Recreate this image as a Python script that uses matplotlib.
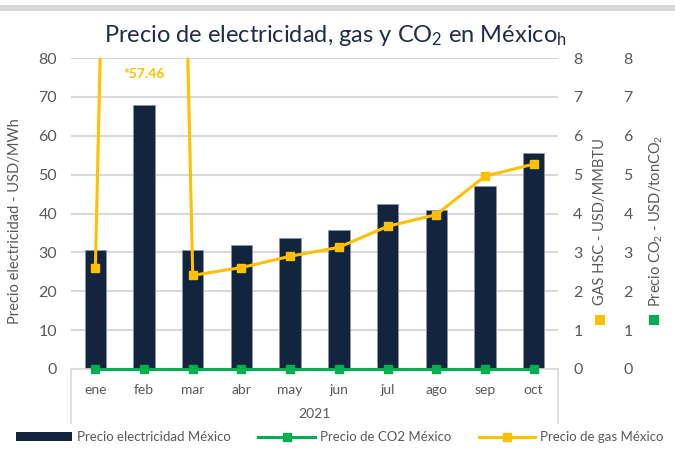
import matplotlib
matplotlib.use("Agg")
import matplotlib.pyplot as plt
from matplotlib.patches import Rectangle
from matplotlib.lines import Line2D
import matplotlib.transforms as mtransforms
import numpy as np

plt.rcParams['font.family'] = ['Lato', 'DejaVu Sans']
plt.rcParams['mathtext.default'] = 'regular'

months = ['ene', 'feb', 'mar', 'abr', 'may', 'jun', 'jul', 'ago', 'sep', 'oct']
year = '2021'
elec = [30.6, 67.9, 30.6, 31.9, 33.8, 35.7, 42.5, 41.0, 47.2, 55.5]
gas = [2.59, 57.46, 2.41, 2.61, 2.90, 3.13, 3.67, 3.97, 4.96, 5.27]
co2 = [0, 0, 0, 0, 0, 0, 0, 0, 0, 0]
gas_note = '*57.46'

title = r'Precio de electricidad, gas y CO$_2$ en México$_h$'
ylabel_left = 'Precio electricidad - USD/MWh'
ylabel_gas = 'GAS HSC - USD/MMBTU'
ylabel_co2 = r'Precio CO$_2$ - USD/tonCO$_2$'
legend_labels = ['Precio electricidad México', 'Precio de CO2 México', 'Precio de gas México']

NAVY = '#13243f'
YEL = '#FFC000'
GRN = '#00B050'
GRID = '#d9d9d9'
TXT = '#595959'

fig = plt.figure(figsize=(6.75, 4.51), dpi=100)
# top gray strip
fig.patches.append(Rectangle((0, 1 - 11/451), 1, 6.5/451, transform=fig.transFigure,
                             facecolor='#d9d9d9', edgecolor='none'))

ax = fig.add_axes([71/675, 1 - 369/451, 487/675, 311/451])
x = np.arange(len(months))

ax.bar(x, elec, width=0.44, color=NAVY, edgecolor='#8a96a8', linewidth=0.6, zorder=2)
ax.set_xlim(-0.5, 9.5)
ax.set_ylim(0, 80)
ax.set_yticks(np.arange(0, 81, 10))
ax.yaxis.grid(True, color=GRID, linewidth=1.5)
ax.set_axisbelow(True)
for s in ['top', 'right', 'left']:
    ax.spines[s].set_visible(False)
ax.spines['bottom'].set_color(GRID)
ax.spines['bottom'].set_linewidth(1.2)
ax.tick_params(axis='y', length=0, pad=10, labelsize=11.5, labelcolor=TXT)
ax.set_xticks(x)
ax.set_xticklabels(months)
ax.tick_params(axis='x', length=0, pad=11, labelsize=10, labelcolor=TXT)
ax.set_ylabel(ylabel_left, fontsize=10.5, color=TXT)
ax.yaxis.set_label_coords(-0.101, 0.477)

# category box lines
trans = mtransforms.blended_transform_factory(ax.transAxes, ax.transAxes)
for xx in (0, 1):
    ax.add_line(Line2D([xx, xx], [0, -0.175], transform=trans, color=GRID,
                       linewidth=1.2, clip_on=False))
ax.text(0.5, -0.145, year, transform=ax.transAxes, ha='center', va='center',
        fontsize=10, color=TXT)

# gas axis
ax2 = ax.twinx()
ax2.plot(x, gas, color=YEL, linewidth=2.2, marker='s', markersize=6, zorder=3)
ax2.set_ylim(0, 8)
ax2.set_yticks(np.arange(0, 9, 1))
for s in ax2.spines.values():
    s.set_visible(False)
ax2.tick_params(axis='y', length=0, pad=11, labelsize=11.5, labelcolor=TXT)
ax2.set_ylabel(ylabel_gas, fontsize=10.5, color=TXT)
ax2.yaxis.set_label_coords(1.072, 0.475)

# co2 axis
ax3 = ax.twinx()
ax3.spines['right'].set_position(('axes', 1.103))
ax3.plot(x, co2, color=GRN, linewidth=2.2, marker='s', markersize=6, zorder=4, clip_on=False)
ax3.set_ylim(0, 8)
ax3.set_yticks(np.arange(0, 9, 1))
for s in ax3.spines.values():
    s.set_visible(False)
ax3.tick_params(axis='y', length=0, pad=11, labelsize=11.5, labelcolor=TXT)
ax3.set_ylabel(ylabel_co2, fontsize=10.5, color=TXT)
ax3.yaxis.set_label_coords(1.183, 0.475)

# colored squares next to right labels
sq_w, sq_h = 10/487, 10/311
ax.add_patch(Rectangle((1.086 - sq_w/2, 0.158 - sq_h/2), sq_w, sq_h, transform=ax.transAxes,
                       facecolor=YEL, edgecolor='none', clip_on=False))
ax.add_patch(Rectangle((1.197 - sq_w/2, 0.158 - sq_h/2), sq_w, sq_h, transform=ax.transAxes,
                       facecolor=GRN, edgecolor='none', clip_on=False))

# annotation for off-scale gas value
ax.text(x[1], 75.9, gas_note, ha='center', va='center', fontsize=10,
        fontweight='bold', color=YEL)

fig.text(0.497, 1 - 35/451, title, ha='center', va='center', fontsize=17, color='#1f2d4a')

handles = [Rectangle((0, 0), 1, 1, facecolor=NAVY, edgecolor='none'),
           Line2D([], [], color=GRN, linewidth=2.2, marker='s', markersize=6),
           Line2D([], [], color=YEL, linewidth=2.2, marker='s', markersize=6)]
fig.legend(handles, legend_labels, loc='center', bbox_to_anchor=(0.503, 1 - 437/451),
           ncol=3, frameon=False, fontsize=9.5, labelcolor=TXT, handlelength=4.3,
           handletextpad=0.35, columnspacing=2.1, handleheight=0.6)

fig.savefig('out.png', dpi=100)
